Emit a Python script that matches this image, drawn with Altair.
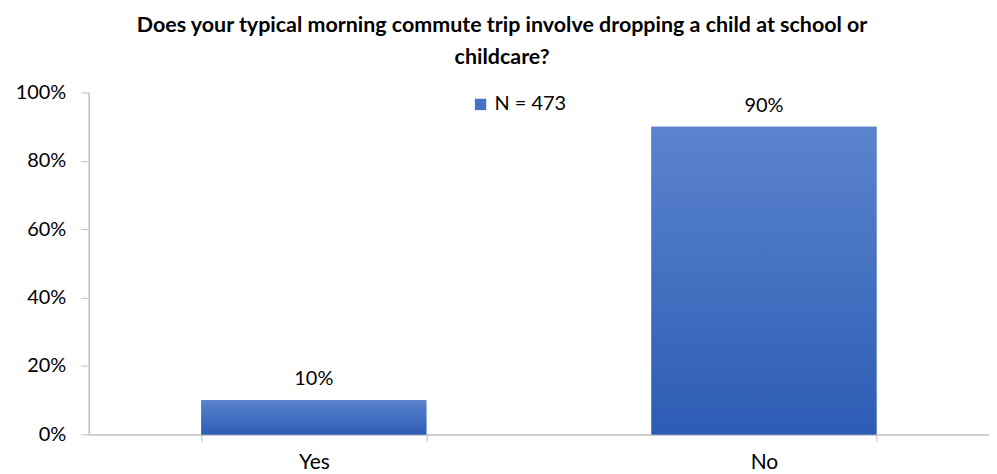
import altair as alt
import pandas as pd

categories = ["Yes", "No"]
values = [0.10, 0.90]
labels = ["10%", "90%"]
series = "N = 473"
title_lines = ["Does your typical morning commute trip involve dropping a child at school or", "childcare?"]

df = pd.DataFrame({"answer": categories, "share": values, "label": labels, "series": [series] * len(categories)})

FONT = "Lato"

x_enc = alt.X("answer:N", sort=categories, title=None,
              scale=alt.Scale(paddingInner=0.5, paddingOuter=0.25),
              axis=alt.Axis(labelAngle=0, labelFontSize=21, labelColor="black", labelFont=FONT,
                            domainColor="#BFBFBF", tickColor="#BFBFBF", tickSize=7, tickBand="extent",
                            labelPadding=10, domainWidth=1.5))
y_enc = alt.Y("share:Q", title=None,
              scale=alt.Scale(domain=[0, 1], nice=False),
              axis=alt.Axis(format=".0%", values=[0, 0.2, 0.4, 0.6, 0.8, 1.0], grid=False,
                            labelFontSize=20, labelColor="black", labelFont=FONT,
                            domainColor="#BFBFBF", tickColor="#BFBFBF", tickSize=8, labelPadding=15,
                            domainWidth=1.5))

gradient = alt.LinearGradient(
    gradient="linear",
    stops=[alt.GradientStop(color="#5B84CD", offset=0), alt.GradientStop(color="#2D5CB5", offset=1)],
    x1=0, x2=0, y1=0, y2=1,
)

legend_bars = alt.Chart(df).mark_bar().encode(
    x=x_enc, y=y_enc,
    color=alt.Color("series:N", scale=alt.Scale(range=["#4472C4"]), title=None,
                    legend=alt.Legend(orient="none", legendX=383, legendY=2, symbolType="square",
                                      symbolSize=130, labelFontSize=20, labelFont=FONT,
                                      labelColor="black", symbolStrokeWidth=0)),
)
grad_bars = alt.Chart(df).mark_bar(color=gradient).encode(x=x_enc, y=y_enc)
text = alt.Chart(df).mark_text(baseline="bottom", dy=-11, fontSize=20, font=FONT, color="black").encode(
    x=alt.X("answer:N", sort=categories), y="share:Q", text="label:N")

chart = alt.layer(legend_bars, grad_bars, text).properties(
    width=903, height=343,
    title=alt.TitleParams(title_lines, fontSize=21.5, font=FONT, fontWeight="bold", color="black",
                          anchor="middle", frame="bounds", offset=14, lineHeight=32),
    padding={"left": 7, "top": 6, "right": 0, "bottom": 0},
).configure_view(stroke=None)

chart.save("out.html", embed_options={"renderer": "svg", "actions": False})
